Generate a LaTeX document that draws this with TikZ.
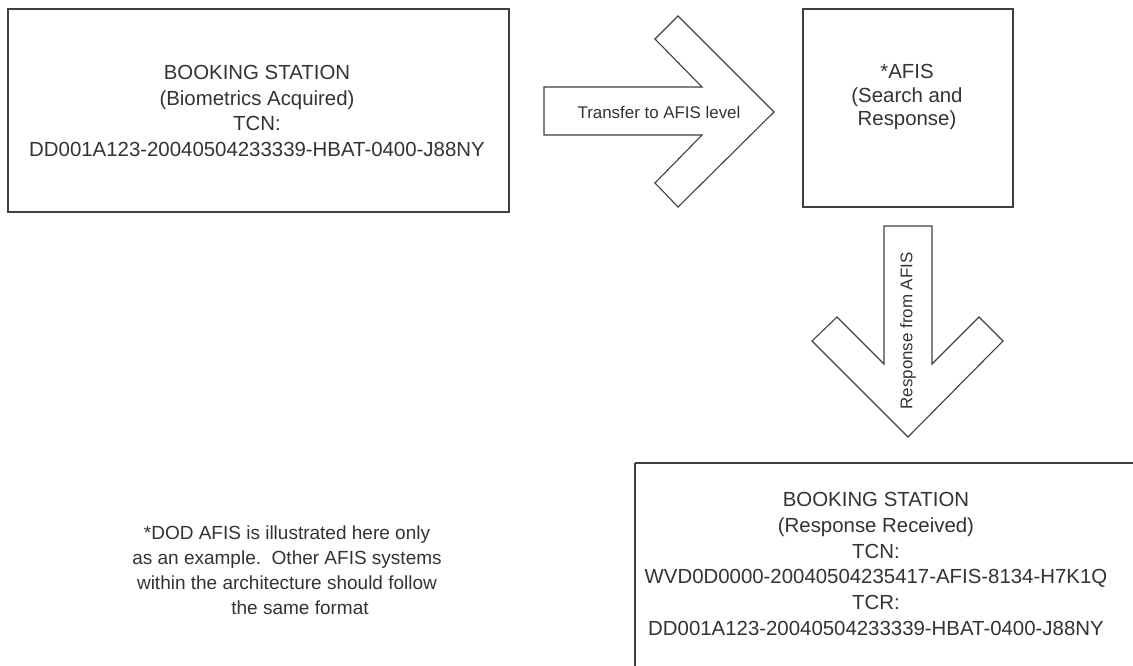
\documentclass[tikz,border=0pt]{standalone}
\usepackage{fontspec}
\setmainfont{Liberation Sans}
\begin{document}
\begin{tikzpicture}[x=1pt,y=-1pt,
  boxline/.style={draw=black!75, line width=1.3pt},
  blockarrow/.style={draw=black!75, line width=1.1pt, fill=white, line join=miter},
  txt/.style={text=black!80, align=center, inner sep=0pt,
    font=\fontsize{20.4}{25.7}\selectfont},
  lbl/.style={text=black!80, inner sep=0pt, font=\fontsize{16.9}{20}\selectfont},
  note/.style={text=black!80, align=center, inner sep=0pt,
    font=\fontsize{19}{25}\selectfont}]
\useasboundingbox (0,0) rectangle (1133,665);
\fill[white] (0,0) rectangle (1133,665);
% boxes
\draw[boxline] (8,9) rectangle (509,212);
\node[txt] (bs1) at (257,111) {BOOKING STATION\\(Biometrics Acquired)\\TCN:\\DD001A123-20040504233339-HBAT-0400-J88NY};
\draw[boxline] (803,9) rectangle (1013,207);
\node[txt, font=\fontsize{20.4}{23.5}\selectfont] (afis) at (907,97) {*AFIS\\(Search and\\Response)};
\draw[boxline] (635,463) -- (1150,463);
\draw[boxline] (635,463) -- (635,680);
\node[txt] (bs2) at (876,564) {BOOKING STATION\\(Response Received)\\TCN:\\WVD0D0000-20040504235417-AFIS-8134-H7K1Q\\TCR:\\DD001A123-20040504233339-HBAT-0400-J88NY};
% block arrow right
\draw[blockarrow] (544,87) -- (702,87) -- (655,39) -- (678,16) -- (774,112)
  -- (678,207) -- (655,183) -- (702,135) -- (544,135) -- cycle;
\node[lbl] (t1) at (659,112) {Transfer to AFIS level};
% block arrow down
\draw[blockarrow] (884,226) -- (932,226) -- (932,364) -- (979,317) -- (1003,341)
  -- (908,437) -- (812,341) -- (837,317) -- (884,364) -- cycle;
\node[lbl, rotate=90] (t2) at (908,331) {Response from AFIS};
% footnote
\node[note] (fn) at (287,570) {*DOD AFIS is illustrated here only\\as an example.\ \ Other AFIS systems\\within the architecture should follow\\\hspace*{26pt}the same format};
\end{tikzpicture}
\end{document}
